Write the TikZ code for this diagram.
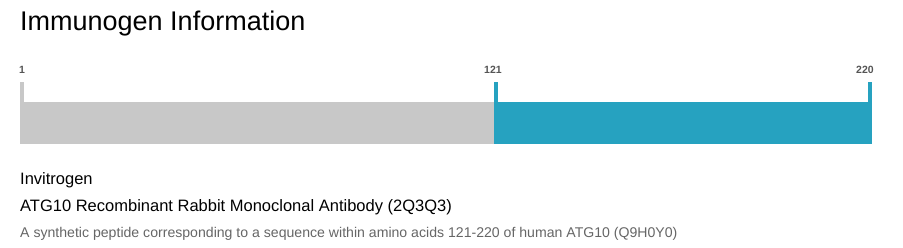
\documentclass[tikz,border=0pt]{standalone}
\usepackage{fontspec}
\setmainfont{Liberation Sans}
\usetikzlibrary{positioning}
\definecolor{barblue}{RGB}{38,162,192}
\definecolor{bargray}{RGB}{200,200,200}
\definecolor{ticktext}{RGB}{85,85,85}
\definecolor{desctext}{RGB}{102,102,102}
\tikzset{
	ticklabel/.style={font=\fontsize{10.5}{10.5}\selectfont\bfseries, text=ticktext, inner sep=0pt},
	infotext/.style={anchor=base west, inner sep=0pt}
}
\begin{document}
\begin{tikzpicture}[x=1pt, y=-1pt]
	\useasboundingbox[fill=white] (0,0) rectangle (903,247);

	\node[infotext, font=\fontsize{27}{27}\selectfont] (title) at (20,30) {Immunogen Information};

	% sequence bar
	\fill[bargray] (20,102) rectangle (494,144);
	\fill[bargray] (20,82) rectangle (24,102);
	\fill[barblue] (494,102) rectangle (872,144);
	\fill[barblue] (494,82) rectangle (498,102);
	\fill[barblue] (868,82) rectangle (872,102);

	\node[ticklabel] (start) at (22,70) {1};
	\node[ticklabel] (mid) at (493,70) {121};
	\node[ticklabel] (stop) at (865,70) {220};

	% product text
	\node[infotext, font=\fontsize{16.5}{16.5}\selectfont] (vendor) at (20,184) {Invitrogen};
	\node[infotext, font=\fontsize{16.5}{16.5}\selectfont] (product) at (20,211) {ATG10 Recombinant Rabbit Monoclonal Antibody (2Q3Q3)};
	\node[infotext, font=\fontsize{14.1}{14.1}\selectfont, text=desctext] (desc) at (20,237) {A synthetic peptide corresponding to a sequence within amino acids 121-220 of human ATG10 (Q9H0Y0)};
\end{tikzpicture}
\end{document}
